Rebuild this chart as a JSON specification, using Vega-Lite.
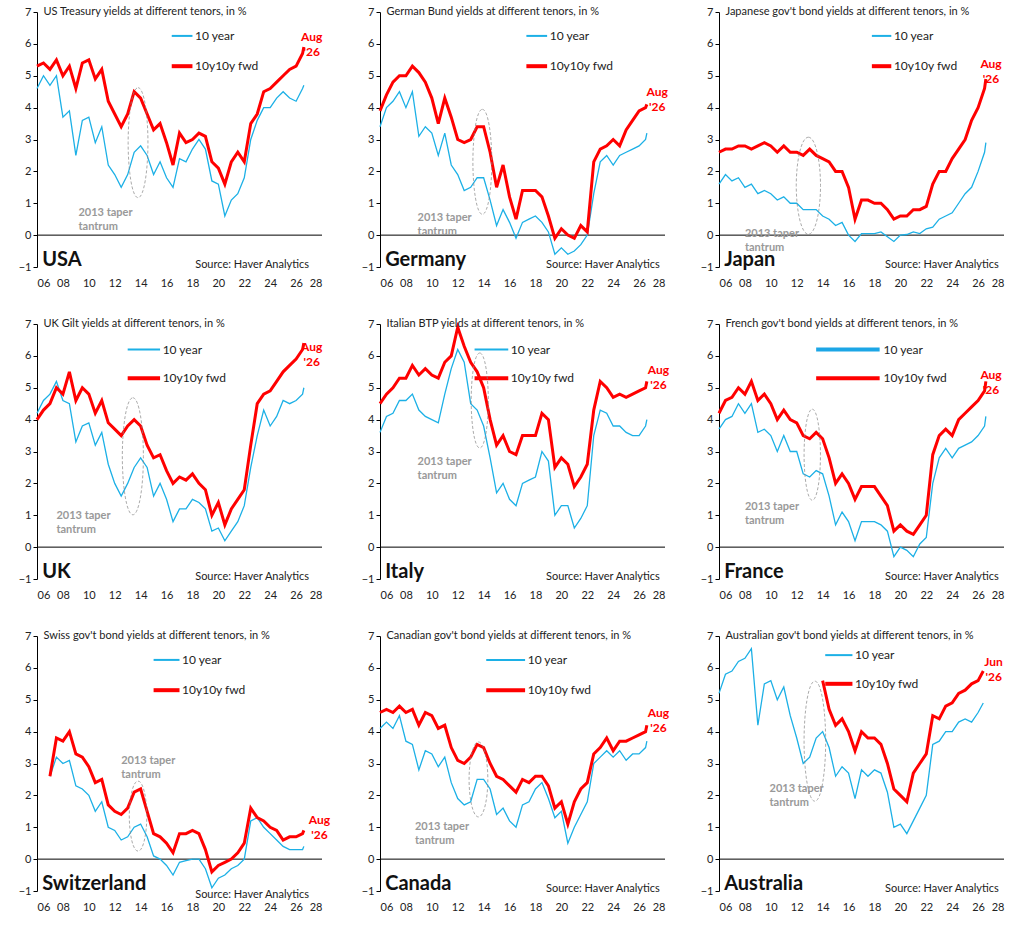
{
"$schema": "https://vega.github.io/schema/vega-lite/v6.json",
"background": "white",
"padding": {"left": 18, "top": 6, "right": 10, "bottom": 5},
"config": {"view": {"stroke": null}, "font": "Lato", "concat": {"spacing": 30},
 "axisX": {"values": [2006,2008,2010,2012,2014,2016,2018,2020,2022,2024,2026,2028], "labelExpr": "slice(toString(datum.value),2)", "domain": false, "ticks": false, "title": null, "grid": false, "labelFontSize": 11, "labelColor": "#222", "labelPadding": 10},
 "axisY": {"values": [-1,0,1,2,3,4,5,6,7], "domainColor": "black", "tickColor": "black", "tickSize": 4, "title": null, "grid": false, "labelFontSize": 11, "labelColor": "#222"},
 "text": {"font": "Lato"}},
"datasets": {"y": [
{"c":"US","t":2006,"a":4.6,"b":5.3},{"c":"US","t":2006.5,"a":5.0,"b":5.4},{"c":"US","t":2007,"a":4.7,"b":5.2},{"c":"US","t":2007.5,"a":5.0,"b":5.5},{"c":"US","t":2008,"a":3.7,"b":5.0},{"c":"US","t":2008.5,"a":3.9,"b":5.3},{"c":"US","t":2009,"a":2.5,"b":4.6},{"c":"US","t":2009.5,"a":3.6,"b":5.4},{"c":"US","t":2010,"a":3.7,"b":5.5},{"c":"US","t":2010.5,"a":2.9,"b":4.9},{"c":"US","t":2011,"a":3.4,"b":5.2},{"c":"US","t":2011.5,"a":2.2,"b":4.2},{"c":"US","t":2012,"a":1.9,"b":3.8},{"c":"US","t":2012.5,"a":1.5,"b":3.4},{"c":"US","t":2013,"a":1.9,"b":3.8},{"c":"US","t":2013.5,"a":2.6,"b":4.5},{"c":"US","t":2014,"a":2.8,"b":4.3},{"c":"US","t":2014.5,"a":2.5,"b":3.8},{"c":"US","t":2015,"a":1.9,"b":3.3},{"c":"US","t":2015.5,"a":2.3,"b":3.5},{"c":"US","t":2016,"a":1.8,"b":2.9},{"c":"US","t":2016.5,"a":1.5,"b":2.2},{"c":"US","t":2017,"a":2.4,"b":3.2},{"c":"US","t":2017.5,"a":2.3,"b":2.9},{"c":"US","t":2018,"a":2.7,"b":3.0},{"c":"US","t":2018.5,"a":3.0,"b":3.2},{"c":"US","t":2019,"a":2.7,"b":3.1},{"c":"US","t":2019.5,"a":1.7,"b":2.3},{"c":"US","t":2020,"a":1.6,"b":2.1},{"c":"US","t":2020.5,"a":0.6,"b":1.6},{"c":"US","t":2021,"a":1.1,"b":2.3},{"c":"US","t":2021.5,"a":1.3,"b":2.6},{"c":"US","t":2022,"a":1.8,"b":2.3},{"c":"US","t":2022.5,"a":3.0,"b":3.5},{"c":"US","t":2023,"a":3.6,"b":3.8},{"c":"US","t":2023.5,"a":4.0,"b":4.5},{"c":"US","t":2024,"a":4.0,"b":4.6},{"c":"US","t":2024.5,"a":4.3,"b":4.8},{"c":"US","t":2025,"a":4.5,"b":5.0},{"c":"US","t":2025.5,"a":4.3,"b":5.2},{"c":"US","t":2026,"a":4.2,"b":5.3},{"c":"US","t":2026.5,"a":4.6,"b":5.7},{"c":"US","t":2026.6,"a":4.7,"b":5.9},
{"c":"DE","t":2006,"a":3.4,"b":3.9},{"c":"DE","t":2006.5,"a":4.0,"b":4.4},{"c":"DE","t":2007,"a":4.2,"b":4.8},{"c":"DE","t":2007.5,"a":4.5,"b":5.0},{"c":"DE","t":2008,"a":4.0,"b":5.0},{"c":"DE","t":2008.5,"a":4.5,"b":5.3},{"c":"DE","t":2009,"a":3.1,"b":5.1},{"c":"DE","t":2009.5,"a":3.4,"b":4.8},{"c":"DE","t":2010,"a":3.2,"b":4.3},{"c":"DE","t":2010.5,"a":2.5,"b":3.5},{"c":"DE","t":2011,"a":3.2,"b":4.3},{"c":"DE","t":2011.5,"a":2.2,"b":3.7},{"c":"DE","t":2012,"a":1.9,"b":3.0},{"c":"DE","t":2012.5,"a":1.4,"b":2.9},{"c":"DE","t":2013,"a":1.5,"b":3.0},{"c":"DE","t":2013.5,"a":1.8,"b":3.4},{"c":"DE","t":2014,"a":1.8,"b":3.4},{"c":"DE","t":2014.5,"a":1.1,"b":2.6},{"c":"DE","t":2015,"a":0.3,"b":1.5},{"c":"DE","t":2015.5,"a":0.8,"b":2.2},{"c":"DE","t":2016,"a":0.4,"b":1.2},{"c":"DE","t":2016.5,"a":-0.1,"b":0.5},{"c":"DE","t":2017,"a":0.4,"b":1.4},{"c":"DE","t":2017.5,"a":0.5,"b":1.4},{"c":"DE","t":2018,"a":0.6,"b":1.4},{"c":"DE","t":2018.5,"a":0.4,"b":1.2},{"c":"DE","t":2019,"a":0.1,"b":0.6},{"c":"DE","t":2019.5,"a":-0.6,"b":-0.1},{"c":"DE","t":2020,"a":-0.4,"b":0.2},{"c":"DE","t":2020.5,"a":-0.6,"b":0.0},{"c":"DE","t":2021,"a":-0.5,"b":-0.1},{"c":"DE","t":2021.5,"a":-0.3,"b":0.3},{"c":"DE","t":2022,"a":0.0,"b":0.1},{"c":"DE","t":2022.5,"a":1.3,"b":2.3},{"c":"DE","t":2023,"a":2.3,"b":2.7},{"c":"DE","t":2023.5,"a":2.5,"b":2.8},{"c":"DE","t":2024,"a":2.2,"b":3.0},{"c":"DE","t":2024.5,"a":2.5,"b":2.8},{"c":"DE","t":2025,"a":2.6,"b":3.3},{"c":"DE","t":2025.5,"a":2.7,"b":3.6},{"c":"DE","t":2026,"a":2.8,"b":3.9},{"c":"DE","t":2026.5,"a":3.0,"b":4.0},{"c":"DE","t":2026.6,"a":3.2,"b":4.1},
{"c":"JP","t":2006,"a":1.6,"b":2.6},{"c":"JP","t":2006.5,"a":1.9,"b":2.7},{"c":"JP","t":2007,"a":1.7,"b":2.7},{"c":"JP","t":2007.5,"a":1.8,"b":2.8},{"c":"JP","t":2008,"a":1.5,"b":2.8},{"c":"JP","t":2008.5,"a":1.6,"b":2.7},{"c":"JP","t":2009,"a":1.3,"b":2.8},{"c":"JP","t":2009.5,"a":1.4,"b":2.9},{"c":"JP","t":2010,"a":1.3,"b":2.8},{"c":"JP","t":2010.5,"a":1.1,"b":2.6},{"c":"JP","t":2011,"a":1.2,"b":2.8},{"c":"JP","t":2011.5,"a":1.0,"b":2.6},{"c":"JP","t":2012,"a":1.0,"b":2.6},{"c":"JP","t":2012.5,"a":0.8,"b":2.5},{"c":"JP","t":2013,"a":0.8,"b":2.7},{"c":"JP","t":2013.5,"a":0.8,"b":2.5},{"c":"JP","t":2014,"a":0.6,"b":2.4},{"c":"JP","t":2014.5,"a":0.5,"b":2.3},{"c":"JP","t":2015,"a":0.3,"b":2.0},{"c":"JP","t":2015.5,"a":0.4,"b":2.0},{"c":"JP","t":2016,"a":0.0,"b":1.5},{"c":"JP","t":2016.5,"a":-0.2,"b":0.5},{"c":"JP","t":2017,"a":0.05,"b":1.1},{"c":"JP","t":2017.5,"a":0.05,"b":1.1},{"c":"JP","t":2018,"a":0.05,"b":1.0},{"c":"JP","t":2018.5,"a":0.1,"b":1.0},{"c":"JP","t":2019,"a":-0.05,"b":0.8},{"c":"JP","t":2019.5,"a":-0.2,"b":0.5},{"c":"JP","t":2020,"a":0.0,"b":0.6},{"c":"JP","t":2020.5,"a":0.02,"b":0.6},{"c":"JP","t":2021,"a":0.1,"b":0.8},{"c":"JP","t":2021.5,"a":0.05,"b":0.8},{"c":"JP","t":2022,"a":0.2,"b":0.9},{"c":"JP","t":2022.5,"a":0.25,"b":1.6},{"c":"JP","t":2023,"a":0.5,"b":2.0},{"c":"JP","t":2023.5,"a":0.6,"b":2.0},{"c":"JP","t":2024,"a":0.7,"b":2.4},{"c":"JP","t":2024.5,"a":1.0,"b":2.7},{"c":"JP","t":2025,"a":1.3,"b":3.0},{"c":"JP","t":2025.5,"a":1.5,"b":3.6},{"c":"JP","t":2026,"a":2.0,"b":4.0},{"c":"JP","t":2026.5,"a":2.6,"b":4.6},{"c":"JP","t":2026.6,"a":2.9,"b":4.9},
{"c":"UK","t":2006,"a":4.2,"b":4.0},{"c":"UK","t":2006.5,"a":4.6,"b":4.3},{"c":"UK","t":2007,"a":4.8,"b":4.5},{"c":"UK","t":2007.5,"a":5.2,"b":5.0},{"c":"UK","t":2008,"a":4.6,"b":4.8},{"c":"UK","t":2008.5,"a":4.5,"b":5.5},{"c":"UK","t":2009,"a":3.3,"b":4.6},{"c":"UK","t":2009.5,"a":3.8,"b":5.0},{"c":"UK","t":2010,"a":3.9,"b":4.8},{"c":"UK","t":2010.5,"a":3.2,"b":4.2},{"c":"UK","t":2011,"a":3.6,"b":4.6},{"c":"UK","t":2011.5,"a":2.6,"b":3.9},{"c":"UK","t":2012,"a":2.0,"b":3.7},{"c":"UK","t":2012.5,"a":1.6,"b":3.5},{"c":"UK","t":2013,"a":2.0,"b":3.8},{"c":"UK","t":2013.5,"a":2.5,"b":4.0},{"c":"UK","t":2014,"a":2.8,"b":3.8},{"c":"UK","t":2014.5,"a":2.5,"b":3.2},{"c":"UK","t":2015,"a":1.6,"b":2.8},{"c":"UK","t":2015.5,"a":2.0,"b":2.9},{"c":"UK","t":2016,"a":1.5,"b":2.4},{"c":"UK","t":2016.5,"a":0.8,"b":2.0},{"c":"UK","t":2017,"a":1.2,"b":2.2},{"c":"UK","t":2017.5,"a":1.2,"b":2.1},{"c":"UK","t":2018,"a":1.5,"b":2.3},{"c":"UK","t":2018.5,"a":1.4,"b":2.0},{"c":"UK","t":2019,"a":1.2,"b":1.8},{"c":"UK","t":2019.5,"a":0.5,"b":1.0},{"c":"UK","t":2020,"a":0.6,"b":1.4},{"c":"UK","t":2020.5,"a":0.2,"b":0.7},{"c":"UK","t":2021,"a":0.5,"b":1.2},{"c":"UK","t":2021.5,"a":0.8,"b":1.5},{"c":"UK","t":2022,"a":1.3,"b":1.8},{"c":"UK","t":2022.5,"a":2.5,"b":3.2},{"c":"UK","t":2023,"a":3.5,"b":4.5},{"c":"UK","t":2023.5,"a":4.3,"b":4.8},{"c":"UK","t":2024,"a":3.8,"b":4.9},{"c":"UK","t":2024.5,"a":4.1,"b":5.2},{"c":"UK","t":2025,"a":4.6,"b":5.5},{"c":"UK","t":2025.5,"a":4.5,"b":5.7},{"c":"UK","t":2026,"a":4.6,"b":5.9},{"c":"UK","t":2026.5,"a":4.8,"b":6.2},{"c":"UK","t":2026.6,"a":5.0,"b":6.4},
{"c":"IT","t":2006,"a":3.6,"b":4.5},{"c":"IT","t":2006.5,"a":4.1,"b":4.8},{"c":"IT","t":2007,"a":4.2,"b":5.0},{"c":"IT","t":2007.5,"a":4.6,"b":5.3},{"c":"IT","t":2008,"a":4.6,"b":5.3},{"c":"IT","t":2008.5,"a":4.8,"b":5.7},{"c":"IT","t":2009,"a":4.3,"b":5.4},{"c":"IT","t":2009.5,"a":4.1,"b":5.6},{"c":"IT","t":2010,"a":4.0,"b":5.4},{"c":"IT","t":2010.5,"a":3.9,"b":5.3},{"c":"IT","t":2011,"a":4.8,"b":5.8},{"c":"IT","t":2011.5,"a":5.6,"b":6.0},{"c":"IT","t":2012,"a":6.2,"b":6.9},{"c":"IT","t":2012.5,"a":5.8,"b":6.3},{"c":"IT","t":2013,"a":4.5,"b":5.8},{"c":"IT","t":2013.5,"a":4.3,"b":5.5},{"c":"IT","t":2014,"a":3.8,"b":5.0},{"c":"IT","t":2014.5,"a":2.8,"b":4.0},{"c":"IT","t":2015,"a":1.7,"b":3.2},{"c":"IT","t":2015.5,"a":2.0,"b":3.5},{"c":"IT","t":2016,"a":1.5,"b":3.0},{"c":"IT","t":2016.5,"a":1.3,"b":2.9},{"c":"IT","t":2017,"a":2.0,"b":3.5},{"c":"IT","t":2017.5,"a":2.1,"b":3.5},{"c":"IT","t":2018,"a":2.2,"b":3.5},{"c":"IT","t":2018.5,"a":3.0,"b":4.2},{"c":"IT","t":2019,"a":2.7,"b":4.0},{"c":"IT","t":2019.5,"a":1.0,"b":2.5},{"c":"IT","t":2020,"a":1.3,"b":2.8},{"c":"IT","t":2020.5,"a":1.3,"b":2.6},{"c":"IT","t":2021,"a":0.6,"b":1.9},{"c":"IT","t":2021.5,"a":0.9,"b":2.2},{"c":"IT","t":2022,"a":1.3,"b":2.6},{"c":"IT","t":2022.5,"a":3.5,"b":4.3},{"c":"IT","t":2023,"a":4.3,"b":5.2},{"c":"IT","t":2023.5,"a":4.2,"b":5.0},{"c":"IT","t":2024,"a":3.8,"b":4.7},{"c":"IT","t":2024.5,"a":3.8,"b":4.8},{"c":"IT","t":2025,"a":3.6,"b":4.7},{"c":"IT","t":2025.5,"a":3.5,"b":4.8},{"c":"IT","t":2026,"a":3.5,"b":4.9},{"c":"IT","t":2026.5,"a":3.8,"b":5.0},{"c":"IT","t":2026.6,"a":4.0,"b":5.2},
{"c":"FR","t":2006,"a":3.7,"b":4.2},{"c":"FR","t":2006.5,"a":4.0,"b":4.6},{"c":"FR","t":2007,"a":4.1,"b":4.7},{"c":"FR","t":2007.5,"a":4.5,"b":5.0},{"c":"FR","t":2008,"a":4.2,"b":4.8},{"c":"FR","t":2008.5,"a":4.5,"b":5.2},{"c":"FR","t":2009,"a":3.6,"b":4.6},{"c":"FR","t":2009.5,"a":3.7,"b":4.8},{"c":"FR","t":2010,"a":3.5,"b":4.5},{"c":"FR","t":2010.5,"a":3.0,"b":4.0},{"c":"FR","t":2011,"a":3.5,"b":4.3},{"c":"FR","t":2011.5,"a":3.0,"b":4.0},{"c":"FR","t":2012,"a":3.0,"b":3.9},{"c":"FR","t":2012.5,"a":2.3,"b":3.5},{"c":"FR","t":2013,"a":2.2,"b":3.4},{"c":"FR","t":2013.5,"a":2.4,"b":3.6},{"c":"FR","t":2014,"a":2.3,"b":3.4},{"c":"FR","t":2014.5,"a":1.6,"b":2.8},{"c":"FR","t":2015,"a":0.7,"b":2.0},{"c":"FR","t":2015.5,"a":1.1,"b":2.3},{"c":"FR","t":2016,"a":0.8,"b":2.0},{"c":"FR","t":2016.5,"a":0.2,"b":1.5},{"c":"FR","t":2017,"a":0.8,"b":1.9},{"c":"FR","t":2017.5,"a":0.8,"b":1.9},{"c":"FR","t":2018,"a":0.8,"b":1.9},{"c":"FR","t":2018.5,"a":0.7,"b":1.6},{"c":"FR","t":2019,"a":0.5,"b":1.3},{"c":"FR","t":2019.5,"a":-0.3,"b":0.5},{"c":"FR","t":2020,"a":0.0,"b":0.7},{"c":"FR","t":2020.5,"a":-0.1,"b":0.5},{"c":"FR","t":2021,"a":-0.3,"b":0.4},{"c":"FR","t":2021.5,"a":0.1,"b":0.7},{"c":"FR","t":2022,"a":0.3,"b":1.0},{"c":"FR","t":2022.5,"a":2.0,"b":2.9},{"c":"FR","t":2023,"a":2.8,"b":3.5},{"c":"FR","t":2023.5,"a":3.1,"b":3.7},{"c":"FR","t":2024,"a":2.8,"b":3.5},{"c":"FR","t":2024.5,"a":3.1,"b":4.0},{"c":"FR","t":2025,"a":3.2,"b":4.2},{"c":"FR","t":2025.5,"a":3.3,"b":4.4},{"c":"FR","t":2026,"a":3.5,"b":4.6},{"c":"FR","t":2026.5,"a":3.8,"b":4.9},{"c":"FR","t":2026.6,"a":4.1,"b":5.2},
{"c":"CH","t":2007,"a":2.6,"b":2.6},{"c":"CH","t":2007.5,"a":3.2,"b":3.8},{"c":"CH","t":2008,"a":3.0,"b":3.7},{"c":"CH","t":2008.5,"a":3.1,"b":4.0},{"c":"CH","t":2009,"a":2.3,"b":3.3},{"c":"CH","t":2009.5,"a":2.2,"b":3.2},{"c":"CH","t":2010,"a":2.0,"b":2.9},{"c":"CH","t":2010.5,"a":1.5,"b":2.4},{"c":"CH","t":2011,"a":1.8,"b":2.5},{"c":"CH","t":2011.5,"a":1.0,"b":1.7},{"c":"CH","t":2012,"a":0.9,"b":1.5},{"c":"CH","t":2012.5,"a":0.6,"b":1.4},{"c":"CH","t":2013,"a":0.7,"b":1.6},{"c":"CH","t":2013.5,"a":1.0,"b":2.1},{"c":"CH","t":2014,"a":1.1,"b":2.2},{"c":"CH","t":2014.5,"a":0.7,"b":1.5},{"c":"CH","t":2015,"a":0.1,"b":0.8},{"c":"CH","t":2015.5,"a":0.0,"b":0.7},{"c":"CH","t":2016,"a":-0.2,"b":0.5},{"c":"CH","t":2016.5,"a":-0.5,"b":0.2},{"c":"CH","t":2017,"a":-0.1,"b":0.8},{"c":"CH","t":2017.5,"a":-0.05,"b":0.8},{"c":"CH","t":2018,"a":0.0,"b":0.9},{"c":"CH","t":2018.5,"a":0.0,"b":0.8},{"c":"CH","t":2019,"a":-0.3,"b":0.3},{"c":"CH","t":2019.5,"a":-0.9,"b":-0.4},{"c":"CH","t":2020,"a":-0.6,"b":-0.2},{"c":"CH","t":2020.5,"a":-0.5,"b":-0.1},{"c":"CH","t":2021,"a":-0.3,"b":0.0},{"c":"CH","t":2021.5,"a":-0.2,"b":0.2},{"c":"CH","t":2022,"a":0.0,"b":0.5},{"c":"CH","t":2022.5,"a":1.2,"b":1.6},{"c":"CH","t":2023,"a":1.3,"b":1.3},{"c":"CH","t":2023.5,"a":1.0,"b":1.2},{"c":"CH","t":2024,"a":0.8,"b":1.0},{"c":"CH","t":2024.5,"a":0.6,"b":0.9},{"c":"CH","t":2025,"a":0.4,"b":0.6},{"c":"CH","t":2025.5,"a":0.3,"b":0.7},{"c":"CH","t":2026,"a":0.3,"b":0.7},{"c":"CH","t":2026.5,"a":0.3,"b":0.8},{"c":"CH","t":2026.6,"a":0.4,"b":0.9},
{"c":"CA","t":2006,"a":4.1,"b":4.6},{"c":"CA","t":2006.5,"a":4.3,"b":4.7},{"c":"CA","t":2007,"a":4.1,"b":4.6},{"c":"CA","t":2007.5,"a":4.5,"b":4.8},{"c":"CA","t":2008,"a":3.7,"b":4.6},{"c":"CA","t":2008.5,"a":3.6,"b":4.7},{"c":"CA","t":2009,"a":2.8,"b":4.2},{"c":"CA","t":2009.5,"a":3.4,"b":4.6},{"c":"CA","t":2010,"a":3.3,"b":4.5},{"c":"CA","t":2010.5,"a":2.9,"b":4.1},{"c":"CA","t":2011,"a":3.2,"b":4.2},{"c":"CA","t":2011.5,"a":2.4,"b":3.5},{"c":"CA","t":2012,"a":1.9,"b":3.1},{"c":"CA","t":2012.5,"a":1.7,"b":3.0},{"c":"CA","t":2013,"a":1.8,"b":3.2},{"c":"CA","t":2013.5,"a":2.5,"b":3.6},{"c":"CA","t":2014,"a":2.5,"b":3.5},{"c":"CA","t":2014.5,"a":2.2,"b":3.0},{"c":"CA","t":2015,"a":1.4,"b":2.6},{"c":"CA","t":2015.5,"a":1.6,"b":2.5},{"c":"CA","t":2016,"a":1.2,"b":2.3},{"c":"CA","t":2016.5,"a":1.0,"b":2.1},{"c":"CA","t":2017,"a":1.7,"b":2.5},{"c":"CA","t":2017.5,"a":1.8,"b":2.4},{"c":"CA","t":2018,"a":2.2,"b":2.6},{"c":"CA","t":2018.5,"a":2.4,"b":2.6},{"c":"CA","t":2019,"a":1.9,"b":2.3},{"c":"CA","t":2019.5,"a":1.3,"b":1.6},{"c":"CA","t":2020,"a":1.5,"b":1.8},{"c":"CA","t":2020.5,"a":0.5,"b":1.1},{"c":"CA","t":2021,"a":1.0,"b":1.8},{"c":"CA","t":2021.5,"a":1.4,"b":2.2},{"c":"CA","t":2022,"a":1.8,"b":2.4},{"c":"CA","t":2022.5,"a":3.0,"b":3.3},{"c":"CA","t":2023,"a":3.2,"b":3.5},{"c":"CA","t":2023.5,"a":3.4,"b":3.8},{"c":"CA","t":2024,"a":3.2,"b":3.4},{"c":"CA","t":2024.5,"a":3.4,"b":3.7},{"c":"CA","t":2025,"a":3.1,"b":3.7},{"c":"CA","t":2025.5,"a":3.3,"b":3.8},{"c":"CA","t":2026,"a":3.3,"b":3.9},{"c":"CA","t":2026.5,"a":3.5,"b":4.0},{"c":"CA","t":2026.6,"a":3.7,"b":4.2},
{"c":"AU","t":2006,"a":5.2},{"c":"AU","t":2006.5,"a":5.8},{"c":"AU","t":2007,"a":5.9},{"c":"AU","t":2007.5,"a":6.2},{"c":"AU","t":2008,"a":6.3},{"c":"AU","t":2008.5,"a":6.6},{"c":"AU","t":2009,"a":4.2},{"c":"AU","t":2009.5,"a":5.5},{"c":"AU","t":2010,"a":5.6},{"c":"AU","t":2010.5,"a":5.0},{"c":"AU","t":2011,"a":5.4},{"c":"AU","t":2011.5,"a":4.5},{"c":"AU","t":2012,"a":3.8},{"c":"AU","t":2012.5,"a":3.0},{"c":"AU","t":2013,"a":3.2},{"c":"AU","t":2013.5,"a":3.8},{"c":"AU","t":2014,"a":4.0,"b":5.6},{"c":"AU","t":2014.5,"a":3.5,"b":4.7},{"c":"AU","t":2015,"a":2.6,"b":4.2},{"c":"AU","t":2015.5,"a":2.9,"b":4.4},{"c":"AU","t":2016,"a":2.7,"b":4.0},{"c":"AU","t":2016.5,"a":1.9,"b":3.4},{"c":"AU","t":2017,"a":2.8,"b":4.0},{"c":"AU","t":2017.5,"a":2.6,"b":3.8},{"c":"AU","t":2018,"a":2.8,"b":3.8},{"c":"AU","t":2018.5,"a":2.7,"b":3.6},{"c":"AU","t":2019,"a":2.1,"b":3.0},{"c":"AU","t":2019.5,"a":1.0,"b":2.2},{"c":"AU","t":2020,"a":1.1,"b":2.0},{"c":"AU","t":2020.5,"a":0.8,"b":1.8},{"c":"AU","t":2021,"a":1.2,"b":2.7},{"c":"AU","t":2021.5,"a":1.6,"b":3.0},{"c":"AU","t":2022,"a":2.0,"b":3.3},{"c":"AU","t":2022.5,"a":3.6,"b":4.5},{"c":"AU","t":2023,"a":3.7,"b":4.4},{"c":"AU","t":2023.5,"a":4.0,"b":4.8},{"c":"AU","t":2024,"a":4.0,"b":4.9},{"c":"AU","t":2024.5,"a":4.3,"b":5.2},{"c":"AU","t":2025,"a":4.4,"b":5.3},{"c":"AU","t":2025.5,"a":4.3,"b":5.5},{"c":"AU","t":2026,"a":4.6,"b":5.6},{"c":"AU","t":2026.4,"a":4.9,"b":5.9}
]},
"columns": 3,
"concat": [
{"width": 285, "height": 255, "layer": [
 {"data": {"values": [{}]}, "mark": {"type": "rule", "color": "black"}, "encoding": {"y": {"datum": 0, "scale": {"domain": [-1, 7]}}}},
 {"data": {"name": "y"}, "transform": [{"filter": "datum.c=='US'"}, {"fold": ["a", "b"], "as": ["s", "v"]}], "mark": {"type": "line"}, "encoding": {"x": {"field": "t", "type": "quantitative", "scale": {"domain": [2006, 2028]}}, "y": {"field": "v", "type": "quantitative", "scale": {"domain": [-1, 7]}}, "color": {"field": "s", "scale": {"domain": ["a", "b"], "range": ["#1cb0e6", "#ff0000"]}, "legend": null}, "strokeWidth": {"field": "s", "scale": {"domain": ["a", "b"], "range": [1.3, 3]}, "legend": null}}},
 {"data": {"values": [{}]}, "mark": {"type": "rule", "color": "#1cb0e6", "strokeWidth": 2}, "encoding": {"x": {"datum": 2016.4}, "x2": {"datum": 2018.0}, "y": {"datum": 6.25}}},
 {"data": {"values": [{}]}, "mark": {"type": "rule", "color": "#ff0000", "strokeWidth": 4}, "encoding": {"x": {"datum": 2016.4}, "x2": {"datum": 2018.0}, "y": {"datum": 5.3}}},
 {"data": {"values": [{}]}, "mark": {"type": "text", "align": "left", "fontSize": 12, "color": "#222"}, "encoding": {"x": {"datum": 2018.2}, "y": {"datum": 6.25}, "text": {"value": "10 year"}}},
 {"data": {"values": [{}]}, "mark": {"type": "text", "align": "left", "fontSize": 12, "color": "#222"}, "encoding": {"x": {"datum": 2018.2}, "y": {"datum": 5.3}, "text": {"value": "10y10y fwd"}}},
 {"data": {"values": [{}]}, "mark": {"type": "text", "align": "left", "fontSize": 11, "color": "#222"}, "encoding": {"x": {"datum": 2006.5}, "y": {"datum": 7}, "text": {"value": "US Treasury yields at different tenors, in %"}}},
 {"data": {"values": [{}]}, "mark": {"type": "text", "align": "left", "baseline": "alphabetic", "fontSize": 20, "fontWeight": "bold", "color": "#111"}, "encoding": {"x": {"datum": 2006.4}, "y": {"datum": -0.98}, "text": {"value": "USA"}}},
 {"data": {"values": [{}]}, "mark": {"type": "text", "align": "right", "fontSize": 11, "color": "#222"}, "encoding": {"x": {"datum": 2027.0}, "y": {"datum": -0.95}, "text": {"value": "Source: Haver Analytics"}}},
 {"data": {"values": [{}]}, "mark": {"type": "text", "align": "left", "fontSize": 11, "fontWeight": "bold", "color": "#999", "lineHeight": 14}, "encoding": {"x": {"datum": 2009.2}, "y": {"datum": 0.7}, "text": {"value": ["2013 taper", "tantrum"]}}},
 {"data": {"values": [{}]}, "mark": {"type": "point", "shape": "M0,-1C0.11,-1 0.18,-0.5 0.18,0C0.18,0.5 0.11,1 0,1C-0.11,1 -0.18,0.5 -0.18,0C-0.18,-0.5 -0.11,-1 0,-1Z", "size": 12100, "filled": false, "color": "#888", "strokeWidth": 1, "strokeDash": [3, 2]}, "encoding": {"x": {"datum": 2013.8}, "y": {"datum": 2.9}}},
 {"data": {"values": [{}]}, "mark": {"type": "text", "align": "center", "fontSize": 12, "fontWeight": "bold", "color": "#ff0000", "lineHeight": 15}, "encoding": {"x": {"datum": 2027.2}, "y": {"datum": 6.22}, "text": {"value": ["Aug", "'26"]}}}
]},
{"width": 285, "height": 255, "layer": [
 {"data": {"values": [{}]}, "mark": {"type": "rule", "color": "black"}, "encoding": {"y": {"datum": 0, "scale": {"domain": [-1, 7]}}}},
 {"data": {"name": "y"}, "transform": [{"filter": "datum.c=='DE'"}, {"fold": ["a", "b"], "as": ["s", "v"]}], "mark": {"type": "line"}, "encoding": {"x": {"field": "t", "type": "quantitative", "scale": {"domain": [2006, 2028]}}, "y": {"field": "v", "type": "quantitative", "scale": {"domain": [-1, 7]}}, "color": {"field": "s", "scale": {"domain": ["a", "b"], "range": ["#1cb0e6", "#ff0000"]}, "legend": null}, "strokeWidth": {"field": "s", "scale": {"domain": ["a", "b"], "range": [1.3, 3]}, "legend": null}}},
 {"data": {"values": [{}]}, "mark": {"type": "rule", "color": "#1cb0e6", "strokeWidth": 2}, "encoding": {"x": {"datum": 2017.3}, "x2": {"datum": 2018.9}, "y": {"datum": 6.25}}},
 {"data": {"values": [{}]}, "mark": {"type": "rule", "color": "#ff0000", "strokeWidth": 4}, "encoding": {"x": {"datum": 2017.3}, "x2": {"datum": 2018.9}, "y": {"datum": 5.3}}},
 {"data": {"values": [{}]}, "mark": {"type": "text", "align": "left", "fontSize": 12, "color": "#222"}, "encoding": {"x": {"datum": 2019.1}, "y": {"datum": 6.25}, "text": {"value": "10 year"}}},
 {"data": {"values": [{}]}, "mark": {"type": "text", "align": "left", "fontSize": 12, "color": "#222"}, "encoding": {"x": {"datum": 2019.1}, "y": {"datum": 5.3}, "text": {"value": "10y10y fwd"}}},
 {"data": {"values": [{}]}, "mark": {"type": "text", "align": "left", "fontSize": 11, "color": "#222"}, "encoding": {"x": {"datum": 2006.5}, "y": {"datum": 7}, "text": {"value": "German Bund yields at different tenors, in %"}}},
 {"data": {"values": [{}]}, "mark": {"type": "text", "align": "left", "baseline": "alphabetic", "fontSize": 20, "fontWeight": "bold", "color": "#111"}, "encoding": {"x": {"datum": 2006.4}, "y": {"datum": -0.98}, "text": {"value": "Germany"}}},
 {"data": {"values": [{}]}, "mark": {"type": "text", "align": "right", "fontSize": 11, "color": "#222"}, "encoding": {"x": {"datum": 2027.6}, "y": {"datum": -0.95}, "text": {"value": "Source: Haver Analytics"}}},
 {"data": {"values": [{}]}, "mark": {"type": "text", "align": "left", "fontSize": 11, "fontWeight": "bold", "color": "#999", "lineHeight": 14}, "encoding": {"x": {"datum": 2008.9}, "y": {"datum": 0.55}, "text": {"value": ["2013 taper", "tantrum"]}}},
 {"data": {"values": [{}]}, "mark": {"type": "point", "shape": "M0,-1C0.11,-1 0.18,-0.5 0.18,0C0.18,0.5 0.11,1 0,1C-0.11,1 -0.18,0.5 -0.18,0C-0.18,-0.5 -0.11,-1 0,-1Z", "size": 11025, "filled": false, "color": "#888", "strokeWidth": 1, "strokeDash": [3, 2]}, "encoding": {"x": {"datum": 2013.9}, "y": {"datum": 2.3}}},
 {"data": {"values": [{}]}, "mark": {"type": "text", "align": "center", "fontSize": 12, "fontWeight": "bold", "color": "#ff0000", "lineHeight": 15}, "encoding": {"x": {"datum": 2027.4}, "y": {"datum": 4.5}, "text": {"value": ["Aug", "'26"]}}}
]},
{"width": 285, "height": 255, "layer": [
 {"data": {"values": [{}]}, "mark": {"type": "rule", "color": "black"}, "encoding": {"y": {"datum": 0, "scale": {"domain": [-1, 7]}}}},
 {"data": {"name": "y"}, "transform": [{"filter": "datum.c=='JP'"}, {"fold": ["a", "b"], "as": ["s", "v"]}], "mark": {"type": "line"}, "encoding": {"x": {"field": "t", "type": "quantitative", "scale": {"domain": [2006, 2028]}}, "y": {"field": "v", "type": "quantitative", "scale": {"domain": [-1, 7]}}, "color": {"field": "s", "scale": {"domain": ["a", "b"], "range": ["#1cb0e6", "#ff0000"]}, "legend": null}, "strokeWidth": {"field": "s", "scale": {"domain": ["a", "b"], "range": [1.3, 3]}, "legend": null}}},
 {"data": {"values": [{}]}, "mark": {"type": "rule", "color": "#1cb0e6", "strokeWidth": 2}, "encoding": {"x": {"datum": 2017.8}, "x2": {"datum": 2019.3}, "y": {"datum": 6.25}}},
 {"data": {"values": [{}]}, "mark": {"type": "rule", "color": "#ff0000", "strokeWidth": 4}, "encoding": {"x": {"datum": 2017.8}, "x2": {"datum": 2019.3}, "y": {"datum": 5.3}}},
 {"data": {"values": [{}]}, "mark": {"type": "text", "align": "left", "fontSize": 12, "color": "#222"}, "encoding": {"x": {"datum": 2019.5}, "y": {"datum": 6.25}, "text": {"value": "10 year"}}},
 {"data": {"values": [{}]}, "mark": {"type": "text", "align": "left", "fontSize": 12, "color": "#222"}, "encoding": {"x": {"datum": 2019.5}, "y": {"datum": 5.3}, "text": {"value": "10y10y fwd"}}},
 {"data": {"values": [{}]}, "mark": {"type": "text", "align": "left", "fontSize": 11, "color": "#222"}, "encoding": {"x": {"datum": 2006.5}, "y": {"datum": 7}, "text": {"value": "Japanese gov't bond yields at different tenors, in %"}}},
 {"data": {"values": [{}]}, "mark": {"type": "text", "align": "left", "baseline": "alphabetic", "fontSize": 20, "fontWeight": "bold", "color": "#111"}, "encoding": {"x": {"datum": 2006.4}, "y": {"datum": -0.98}, "text": {"value": "Japan"}}},
 {"data": {"values": [{}]}, "mark": {"type": "text", "align": "right", "fontSize": 11, "color": "#222"}, "encoding": {"x": {"datum": 2027.6}, "y": {"datum": -0.95}, "text": {"value": "Source: Haver Analytics"}}},
 {"data": {"values": [{}]}, "mark": {"type": "text", "align": "left", "fontSize": 11, "fontWeight": "bold", "color": "#999", "lineHeight": 14}, "encoding": {"x": {"datum": 2008.0}, "y": {"datum": 0.05}, "text": {"value": ["2013 taper", "tantrum"]}}},
 {"data": {"values": [{}]}, "mark": {"type": "point", "shape": "M0,-1C0.15,-1 0.25,-0.5 0.25,0C0.25,0.5 0.15,1 0,1C-0.15,1 -0.25,0.5 -0.25,0C-0.25,-0.5 -0.15,-1 0,-1Z", "size": 9409, "filled": false, "color": "#888", "strokeWidth": 1, "strokeDash": [3, 2]}, "encoding": {"x": {"datum": 2012.9}, "y": {"datum": 1.55}}},
 {"data": {"values": [{}]}, "mark": {"type": "text", "align": "center", "fontSize": 12, "fontWeight": "bold", "color": "#ff0000", "lineHeight": 15}, "encoding": {"x": {"datum": 2027.0}, "y": {"datum": 5.37}, "text": {"value": ["Aug", "'26"]}}}
]},
{"width": 285, "height": 255, "layer": [
 {"data": {"values": [{}]}, "mark": {"type": "rule", "color": "black"}, "encoding": {"y": {"datum": 0, "scale": {"domain": [-1, 7]}}}},
 {"data": {"name": "y"}, "transform": [{"filter": "datum.c=='UK'"}, {"fold": ["a", "b"], "as": ["s", "v"]}], "mark": {"type": "line"}, "encoding": {"x": {"field": "t", "type": "quantitative", "scale": {"domain": [2006, 2028]}}, "y": {"field": "v", "type": "quantitative", "scale": {"domain": [-1, 7]}}, "color": {"field": "s", "scale": {"domain": ["a", "b"], "range": ["#1cb0e6", "#ff0000"]}, "legend": null}, "strokeWidth": {"field": "s", "scale": {"domain": ["a", "b"], "range": [1.3, 3]}, "legend": null}}},
 {"data": {"values": [{}]}, "mark": {"type": "rule", "color": "#1cb0e6", "strokeWidth": 2}, "encoding": {"x": {"datum": 2013.0}, "x2": {"datum": 2015.5}, "y": {"datum": 6.2}}},
 {"data": {"values": [{}]}, "mark": {"type": "rule", "color": "#ff0000", "strokeWidth": 4}, "encoding": {"x": {"datum": 2013.0}, "x2": {"datum": 2015.5}, "y": {"datum": 5.3}}},
 {"data": {"values": [{}]}, "mark": {"type": "text", "align": "left", "fontSize": 12, "color": "#222"}, "encoding": {"x": {"datum": 2015.7}, "y": {"datum": 6.2}, "text": {"value": "10 year"}}},
 {"data": {"values": [{}]}, "mark": {"type": "text", "align": "left", "fontSize": 12, "color": "#222"}, "encoding": {"x": {"datum": 2015.7}, "y": {"datum": 5.3}, "text": {"value": "10y10y fwd"}}},
 {"data": {"values": [{}]}, "mark": {"type": "text", "align": "left", "fontSize": 11, "color": "#222"}, "encoding": {"x": {"datum": 2006.5}, "y": {"datum": 7}, "text": {"value": "UK Gilt yields at different tenors, in %"}}},
 {"data": {"values": [{}]}, "mark": {"type": "text", "align": "left", "baseline": "alphabetic", "fontSize": 20, "fontWeight": "bold", "color": "#111"}, "encoding": {"x": {"datum": 2006.4}, "y": {"datum": -0.98}, "text": {"value": "UK"}}},
 {"data": {"values": [{}]}, "mark": {"type": "text", "align": "right", "fontSize": 11, "color": "#222"}, "encoding": {"x": {"datum": 2027.0}, "y": {"datum": -0.95}, "text": {"value": "Source: Haver Analytics"}}},
 {"data": {"values": [{}]}, "mark": {"type": "text", "align": "left", "fontSize": 11, "fontWeight": "bold", "color": "#999", "lineHeight": 14}, "encoding": {"x": {"datum": 2007.5}, "y": {"datum": 0.97}, "text": {"value": ["2013 taper", "tantrum"]}}},
 {"data": {"values": [{}]}, "mark": {"type": "point", "shape": "M0,-1C0.11,-1 0.18,-0.5 0.18,0C0.18,0.5 0.11,1 0,1C-0.11,1 -0.18,0.5 -0.18,0C-0.18,-0.5 -0.11,-1 0,-1Z", "size": 13689, "filled": false, "color": "#888", "strokeWidth": 1, "strokeDash": [3, 2]}, "encoding": {"x": {"datum": 2013.4}, "y": {"datum": 2.85}}},
 {"data": {"values": [{}]}, "mark": {"type": "text", "align": "center", "fontSize": 12, "fontWeight": "bold", "color": "#ff0000", "lineHeight": 15}, "encoding": {"x": {"datum": 2027.2}, "y": {"datum": 6.27}, "text": {"value": ["Aug", "'26"]}}}
]},
{"width": 285, "height": 255, "layer": [
 {"data": {"values": [{}]}, "mark": {"type": "rule", "color": "black"}, "encoding": {"y": {"datum": 0, "scale": {"domain": [-1, 7]}}}},
 {"data": {"name": "y"}, "transform": [{"filter": "datum.c=='IT'"}, {"fold": ["a", "b"], "as": ["s", "v"]}], "mark": {"type": "line"}, "encoding": {"x": {"field": "t", "type": "quantitative", "scale": {"domain": [2006, 2028]}}, "y": {"field": "v", "type": "quantitative", "scale": {"domain": [-1, 7]}}, "color": {"field": "s", "scale": {"domain": ["a", "b"], "range": ["#1cb0e6", "#ff0000"]}, "legend": null}, "strokeWidth": {"field": "s", "scale": {"domain": ["a", "b"], "range": [1.3, 3]}, "legend": null}}},
 {"data": {"values": [{}]}, "mark": {"type": "rule", "color": "#1cb0e6", "strokeWidth": 2}, "encoding": {"x": {"datum": 2013.3}, "x2": {"datum": 2015.9}, "y": {"datum": 6.2}}},
 {"data": {"values": [{}]}, "mark": {"type": "rule", "color": "#ff0000", "strokeWidth": 4}, "encoding": {"x": {"datum": 2013.3}, "x2": {"datum": 2015.9}, "y": {"datum": 5.3}}},
 {"data": {"values": [{}]}, "mark": {"type": "text", "align": "left", "fontSize": 12, "color": "#222"}, "encoding": {"x": {"datum": 2016.1}, "y": {"datum": 6.2}, "text": {"value": "10 year"}}},
 {"data": {"values": [{}]}, "mark": {"type": "text", "align": "left", "fontSize": 12, "color": "#222"}, "encoding": {"x": {"datum": 2016.1}, "y": {"datum": 5.3}, "text": {"value": "10y10y fwd"}}},
 {"data": {"values": [{}]}, "mark": {"type": "text", "align": "left", "fontSize": 11, "color": "#222"}, "encoding": {"x": {"datum": 2006.5}, "y": {"datum": 7}, "text": {"value": "Italian BTP yields at different tenors, in %"}}},
 {"data": {"values": [{}]}, "mark": {"type": "text", "align": "left", "baseline": "alphabetic", "fontSize": 20, "fontWeight": "bold", "color": "#111"}, "encoding": {"x": {"datum": 2006.4}, "y": {"datum": -0.98}, "text": {"value": "Italy"}}},
 {"data": {"values": [{}]}, "mark": {"type": "text", "align": "right", "fontSize": 11, "color": "#222"}, "encoding": {"x": {"datum": 2027.6}, "y": {"datum": -0.95}, "text": {"value": "Source: Haver Analytics"}}},
 {"data": {"values": [{}]}, "mark": {"type": "text", "align": "left", "fontSize": 11, "fontWeight": "bold", "color": "#999", "lineHeight": 14}, "encoding": {"x": {"datum": 2008.9}, "y": {"datum": 2.68}, "text": {"value": ["2013 taper", "tantrum"]}}},
 {"data": {"values": [{}]}, "mark": {"type": "point", "shape": "M0,-1C0.11,-1 0.18,-0.5 0.18,0C0.18,0.5 0.11,1 0,1C-0.11,1 -0.18,0.5 -0.18,0C-0.18,-0.5 -0.11,-1 0,-1Z", "size": 9025, "filled": false, "color": "#888", "strokeWidth": 1, "strokeDash": [3, 2]}, "encoding": {"x": {"datum": 2013.7}, "y": {"datum": 4.6}}},
 {"data": {"values": [{}]}, "mark": {"type": "text", "align": "center", "fontSize": 12, "fontWeight": "bold", "color": "#ff0000", "lineHeight": 15}, "encoding": {"x": {"datum": 2027.5}, "y": {"datum": 5.57}, "text": {"value": ["Aug", "'26"]}}}
]},
{"width": 285, "height": 255, "layer": [
 {"data": {"values": [{}]}, "mark": {"type": "rule", "color": "black"}, "encoding": {"y": {"datum": 0, "scale": {"domain": [-1, 7]}}}},
 {"data": {"name": "y"}, "transform": [{"filter": "datum.c=='FR'"}, {"fold": ["a", "b"], "as": ["s", "v"]}], "mark": {"type": "line"}, "encoding": {"x": {"field": "t", "type": "quantitative", "scale": {"domain": [2006, 2028]}}, "y": {"field": "v", "type": "quantitative", "scale": {"domain": [-1, 7]}}, "color": {"field": "s", "scale": {"domain": ["a", "b"], "range": ["#1ca6e6", "#ff0000"]}, "legend": null}, "strokeWidth": {"field": "s", "scale": {"domain": ["a", "b"], "range": [2.2, 3]}, "legend": null}}},
 {"data": {"values": [{}]}, "mark": {"type": "rule", "color": "#1ca6e6", "strokeWidth": 4}, "encoding": {"x": {"datum": 2013.5}, "x2": {"datum": 2018.4}, "y": {"datum": 6.2}}},
 {"data": {"values": [{}]}, "mark": {"type": "rule", "color": "#ff0000", "strokeWidth": 4}, "encoding": {"x": {"datum": 2013.5}, "x2": {"datum": 2018.4}, "y": {"datum": 5.3}}},
 {"data": {"values": [{}]}, "mark": {"type": "text", "align": "left", "fontSize": 12, "color": "#222"}, "encoding": {"x": {"datum": 2018.7}, "y": {"datum": 6.2}, "text": {"value": "10 year"}}},
 {"data": {"values": [{}]}, "mark": {"type": "text", "align": "left", "fontSize": 12, "color": "#222"}, "encoding": {"x": {"datum": 2018.7}, "y": {"datum": 5.3}, "text": {"value": "10y10y fwd"}}},
 {"data": {"values": [{}]}, "mark": {"type": "text", "align": "left", "fontSize": 11, "color": "#222"}, "encoding": {"x": {"datum": 2006.5}, "y": {"datum": 7}, "text": {"value": "French gov't bond yields at different tenors, in %"}}},
 {"data": {"values": [{}]}, "mark": {"type": "text", "align": "left", "baseline": "alphabetic", "fontSize": 20, "fontWeight": "bold", "color": "#111"}, "encoding": {"x": {"datum": 2006.4}, "y": {"datum": -0.98}, "text": {"value": "France"}}},
 {"data": {"values": [{}]}, "mark": {"type": "text", "align": "right", "fontSize": 11, "color": "#222"}, "encoding": {"x": {"datum": 2027.6}, "y": {"datum": -0.95}, "text": {"value": "Source: Haver Analytics"}}},
 {"data": {"values": [{}]}, "mark": {"type": "text", "align": "left", "fontSize": 11, "fontWeight": "bold", "color": "#999", "lineHeight": 14}, "encoding": {"x": {"datum": 2008.0}, "y": {"datum": 1.27}, "text": {"value": ["2013 taper", "tantrum"]}}},
 {"data": {"values": [{}]}, "mark": {"type": "point", "shape": "M0,-1C0.11,-1 0.18,-0.5 0.18,0C0.18,0.5 0.11,1 0,1C-0.11,1 -0.18,0.5 -0.18,0C-0.18,-0.5 -0.11,-1 0,-1Z", "size": 8281, "filled": false, "color": "#888", "strokeWidth": 1, "strokeDash": [3, 2]}, "encoding": {"x": {"datum": 2013.2}, "y": {"datum": 2.9}}},
 {"data": {"values": [{}]}, "mark": {"type": "text", "align": "center", "fontSize": 12, "fontWeight": "bold", "color": "#ff0000", "lineHeight": 15}, "encoding": {"x": {"datum": 2027.0}, "y": {"datum": 5.4}, "text": {"value": ["Aug", "'26"]}}}
]},
{"width": 285, "height": 255, "layer": [
 {"data": {"values": [{}]}, "mark": {"type": "rule", "color": "black"}, "encoding": {"y": {"datum": 0, "scale": {"domain": [-1, 7]}}}},
 {"data": {"name": "y"}, "transform": [{"filter": "datum.c=='CH'"}, {"fold": ["a", "b"], "as": ["s", "v"]}], "mark": {"type": "line"}, "encoding": {"x": {"field": "t", "type": "quantitative", "scale": {"domain": [2006, 2028]}}, "y": {"field": "v", "type": "quantitative", "scale": {"domain": [-1, 7]}}, "color": {"field": "s", "scale": {"domain": ["a", "b"], "range": ["#1cb0e6", "#ff0000"]}, "legend": null}, "strokeWidth": {"field": "s", "scale": {"domain": ["a", "b"], "range": [1.3, 3]}, "legend": null}}},
 {"data": {"values": [{}]}, "mark": {"type": "rule", "color": "#1cb0e6", "strokeWidth": 2}, "encoding": {"x": {"datum": 2015.0}, "x2": {"datum": 2017.0}, "y": {"datum": 6.25}}},
 {"data": {"values": [{}]}, "mark": {"type": "rule", "color": "#ff0000", "strokeWidth": 4}, "encoding": {"x": {"datum": 2015.0}, "x2": {"datum": 2017.0}, "y": {"datum": 5.3}}},
 {"data": {"values": [{}]}, "mark": {"type": "text", "align": "left", "fontSize": 12, "color": "#222"}, "encoding": {"x": {"datum": 2017.2}, "y": {"datum": 6.25}, "text": {"value": "10 year"}}},
 {"data": {"values": [{}]}, "mark": {"type": "text", "align": "left", "fontSize": 12, "color": "#222"}, "encoding": {"x": {"datum": 2017.2}, "y": {"datum": 5.3}, "text": {"value": "10y10y fwd"}}},
 {"data": {"values": [{}]}, "mark": {"type": "text", "align": "left", "fontSize": 11, "color": "#222"}, "encoding": {"x": {"datum": 2006.5}, "y": {"datum": 7}, "text": {"value": "Swiss gov't bond yields at different tenors, in %"}}},
 {"data": {"values": [{}]}, "mark": {"type": "text", "align": "left", "baseline": "alphabetic", "fontSize": 20, "fontWeight": "bold", "color": "#111"}, "encoding": {"x": {"datum": 2006.4}, "y": {"datum": -0.98}, "text": {"value": "Switzerland"}}},
 {"data": {"values": [{}]}, "mark": {"type": "text", "align": "right", "fontSize": 11, "color": "#222"}, "encoding": {"x": {"datum": 2027.0}, "y": {"datum": -1.12}, "text": {"value": "Source: Haver Analytics"}}},
 {"data": {"values": [{}]}, "mark": {"type": "text", "align": "left", "fontSize": 11, "fontWeight": "bold", "color": "#999", "lineHeight": 14}, "encoding": {"x": {"datum": 2012.5}, "y": {"datum": 3.08}, "text": {"value": ["2013 taper", "tantrum"]}}},
 {"data": {"values": [{}]}, "mark": {"type": "point", "shape": "M0,-1C0.15,-1 0.25,-0.5 0.25,0C0.25,0.5 0.15,1 0,1C-0.15,1 -0.25,0.5 -0.25,0C-0.25,-0.5 -0.15,-1 0,-1Z", "size": 4900, "filled": false, "color": "#888", "strokeWidth": 1, "strokeDash": [3, 2]}, "encoding": {"x": {"datum": 2013.8}, "y": {"datum": 1.35}}},
 {"data": {"values": [{}]}, "mark": {"type": "text", "align": "center", "fontSize": 12, "fontWeight": "bold", "color": "#ff0000", "lineHeight": 15}, "encoding": {"x": {"datum": 2027.8}, "y": {"datum": 1.22}, "text": {"value": ["Aug", "'26"]}}}
]},
{"width": 285, "height": 255, "layer": [
 {"data": {"values": [{}]}, "mark": {"type": "rule", "color": "black"}, "encoding": {"y": {"datum": 0, "scale": {"domain": [-1, 7]}}}},
 {"data": {"name": "y"}, "transform": [{"filter": "datum.c=='CA'"}, {"fold": ["a", "b"], "as": ["s", "v"]}], "mark": {"type": "line"}, "encoding": {"x": {"field": "t", "type": "quantitative", "scale": {"domain": [2006, 2028]}}, "y": {"field": "v", "type": "quantitative", "scale": {"domain": [-1, 7]}}, "color": {"field": "s", "scale": {"domain": ["a", "b"], "range": ["#1cb0e6", "#ff0000"]}, "legend": null}, "strokeWidth": {"field": "s", "scale": {"domain": ["a", "b"], "range": [1.3, 3]}, "legend": null}}},
 {"data": {"values": [{}]}, "mark": {"type": "rule", "color": "#1cb0e6", "strokeWidth": 2}, "encoding": {"x": {"datum": 2014.2}, "x2": {"datum": 2017.2}, "y": {"datum": 6.25}}},
 {"data": {"values": [{}]}, "mark": {"type": "rule", "color": "#ff0000", "strokeWidth": 4}, "encoding": {"x": {"datum": 2014.2}, "x2": {"datum": 2017.2}, "y": {"datum": 5.3}}},
 {"data": {"values": [{}]}, "mark": {"type": "text", "align": "left", "fontSize": 12, "color": "#222"}, "encoding": {"x": {"datum": 2017.4}, "y": {"datum": 6.25}, "text": {"value": "10 year"}}},
 {"data": {"values": [{}]}, "mark": {"type": "text", "align": "left", "fontSize": 12, "color": "#222"}, "encoding": {"x": {"datum": 2017.4}, "y": {"datum": 5.3}, "text": {"value": "10y10y fwd"}}},
 {"data": {"values": [{}]}, "mark": {"type": "text", "align": "left", "fontSize": 11, "color": "#222"}, "encoding": {"x": {"datum": 2006.5}, "y": {"datum": 7}, "text": {"value": "Canadian gov't bond yields at different tenors, in %"}}},
 {"data": {"values": [{}]}, "mark": {"type": "text", "align": "left", "baseline": "alphabetic", "fontSize": 20, "fontWeight": "bold", "color": "#111"}, "encoding": {"x": {"datum": 2006.4}, "y": {"datum": -0.98}, "text": {"value": "Canada"}}},
 {"data": {"values": [{}]}, "mark": {"type": "text", "align": "right", "fontSize": 11, "color": "#222"}, "encoding": {"x": {"datum": 2027.6}, "y": {"datum": -0.95}, "text": {"value": "Source: Haver Analytics"}}},
 {"data": {"values": [{}]}, "mark": {"type": "text", "align": "left", "fontSize": 11, "fontWeight": "bold", "color": "#999", "lineHeight": 14}, "encoding": {"x": {"datum": 2008.7}, "y": {"datum": 1.0}, "text": {"value": ["2013 taper", "tantrum"]}}},
 {"data": {"values": [{}]}, "mark": {"type": "point", "shape": "M0,-1C0.15,-1 0.25,-0.5 0.25,0C0.25,0.5 0.15,1 0,1C-0.15,1 -0.25,0.5 -0.25,0C-0.25,-0.5 -0.15,-1 0,-1Z", "size": 5625, "filled": false, "color": "#888", "strokeWidth": 1, "strokeDash": [3, 2]}, "encoding": {"x": {"datum": 2013.6}, "y": {"datum": 2.5}}},
 {"data": {"values": [{}]}, "mark": {"type": "text", "align": "center", "fontSize": 12, "fontWeight": "bold", "color": "#ff0000", "lineHeight": 15}, "encoding": {"x": {"datum": 2027.5}, "y": {"datum": 4.6}, "text": {"value": ["Aug", "'26"]}}}
]},
{"width": 285, "height": 255, "layer": [
 {"data": {"values": [{}]}, "mark": {"type": "rule", "color": "black"}, "encoding": {"y": {"datum": 0, "scale": {"domain": [-1, 7]}}}},
 {"data": {"name": "y"}, "transform": [{"filter": "datum.c=='AU'"}, {"fold": ["a", "b"], "as": ["s", "v"]}], "mark": {"type": "line"}, "encoding": {"x": {"field": "t", "type": "quantitative", "scale": {"domain": [2006, 2028]}}, "y": {"field": "v", "type": "quantitative", "scale": {"domain": [-1, 7]}}, "color": {"field": "s", "scale": {"domain": ["a", "b"], "range": ["#1cb0e6", "#ff0000"]}, "legend": null}, "strokeWidth": {"field": "s", "scale": {"domain": ["a", "b"], "range": [1.3, 3]}, "legend": null}}},
 {"data": {"values": [{}]}, "mark": {"type": "rule", "color": "#1cb0e6", "strokeWidth": 2}, "encoding": {"x": {"datum": 2014.2}, "x2": {"datum": 2016.3}, "y": {"datum": 6.4}}},
 {"data": {"values": [{}]}, "mark": {"type": "rule", "color": "#ff0000", "strokeWidth": 4}, "encoding": {"x": {"datum": 2014.2}, "x2": {"datum": 2016.3}, "y": {"datum": 5.5}}},
 {"data": {"values": [{}]}, "mark": {"type": "text", "align": "left", "fontSize": 12, "color": "#222"}, "encoding": {"x": {"datum": 2016.5}, "y": {"datum": 6.4}, "text": {"value": "10 year"}}},
 {"data": {"values": [{}]}, "mark": {"type": "text", "align": "left", "fontSize": 12, "color": "#222"}, "encoding": {"x": {"datum": 2016.5}, "y": {"datum": 5.5}, "text": {"value": "10y10y fwd"}}},
 {"data": {"values": [{}]}, "mark": {"type": "text", "align": "left", "fontSize": 11, "color": "#222"}, "encoding": {"x": {"datum": 2006.5}, "y": {"datum": 7}, "text": {"value": "Australian gov't bond yields at different tenors, in %"}}},
 {"data": {"values": [{}]}, "mark": {"type": "text", "align": "left", "baseline": "alphabetic", "fontSize": 20, "fontWeight": "bold", "color": "#111"}, "encoding": {"x": {"datum": 2006.4}, "y": {"datum": -0.98}, "text": {"value": "Australia"}}},
 {"data": {"values": [{}]}, "mark": {"type": "text", "align": "right", "fontSize": 11, "color": "#222"}, "encoding": {"x": {"datum": 2027.6}, "y": {"datum": -0.95}, "text": {"value": "Source: Haver Analytics"}}},
 {"data": {"values": [{}]}, "mark": {"type": "text", "align": "left", "fontSize": 11, "fontWeight": "bold", "color": "#999", "lineHeight": 14}, "encoding": {"x": {"datum": 2009.9}, "y": {"datum": 2.2}, "text": {"value": ["2013 taper", "tantrum"]}}},
 {"data": {"values": [{}]}, "mark": {"type": "point", "shape": "M0,-1C0.11,-1 0.18,-0.5 0.18,0C0.18,0.5 0.11,1 0,1C-0.11,1 -0.18,0.5 -0.18,0C-0.18,-0.5 -0.11,-1 0,-1Z", "size": 14400, "filled": false, "color": "#888", "strokeWidth": 1, "strokeDash": [3, 2]}, "encoding": {"x": {"datum": 2013.4}, "y": {"datum": 3.7}}},
 {"data": {"values": [{}]}, "mark": {"type": "text", "align": "center", "fontSize": 12, "fontWeight": "bold", "color": "#ff0000", "lineHeight": 15}, "encoding": {"x": {"datum": 2027.2}, "y": {"datum": 6.2}, "text": {"value": ["Jun", "'26"]}}}
]}
]
}
